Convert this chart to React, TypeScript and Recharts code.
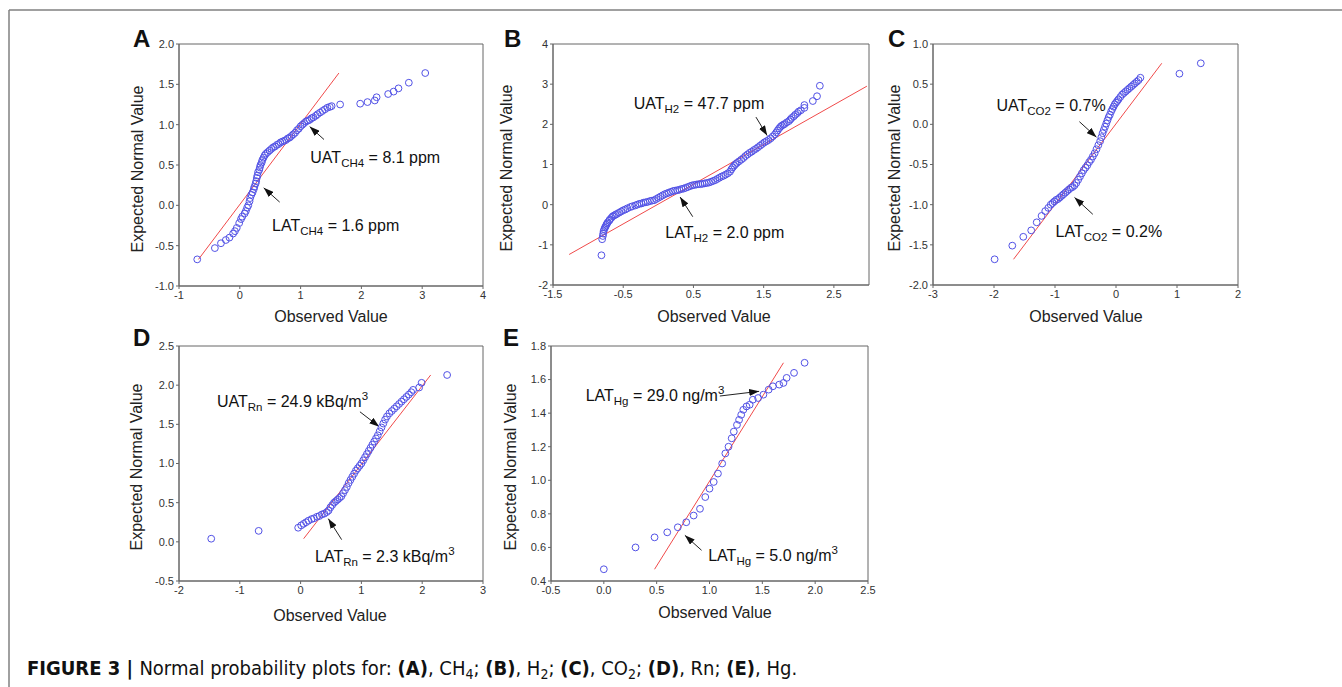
import React from 'react';
import { ScatterChart, Scatter, XAxis, YAxis, ReferenceLine, ReferenceArea } from 'recharts';

type Pt = [number, number];

// ---------- data ----------
const xTicksA = [-1, 0, 1, 2, 3, 4];
const yTicksA = [-1, -0.5, 0, 0.5, 1, 1.5, 2];
const pointsA: Pt[] = [
  [-0.70, -0.67], [-0.41, -0.53], [-0.31, -0.47], [-0.23, -0.43], [-0.17, -0.40], [-0.11, -0.35], [-0.08, -0.32],
  [-0.05, -0.28], [-0.01, -0.22], [0.02, -0.17], [0.04, -0.14], [0.08, -0.10], [0.10, -0.07], [0.12, -0.03],
  [0.14, 0.00], [0.16, 0.05], [0.17, 0.09], [0.19, 0.13], [0.21, 0.16], [0.23, 0.20], [0.24, 0.23], [0.26, 0.27],
  [0.27, 0.30], [0.28, 0.34], [0.29, 0.37], [0.30, 0.41], [0.32, 0.44], [0.33, 0.47], [0.34, 0.50], [0.36, 0.53],
  [0.37, 0.56], [0.39, 0.59], [0.41, 0.62], [0.43, 0.64], [0.46, 0.66], [0.49, 0.68], [0.52, 0.70], [0.55, 0.72],
  [0.58, 0.73], [0.61, 0.75], [0.64, 0.76], [0.67, 0.78], [0.70, 0.79], [0.73, 0.80], [0.76, 0.81], [0.79, 0.83],
  [0.82, 0.84], [0.85, 0.86], [0.88, 0.88], [0.91, 0.90], [0.94, 0.93], [0.97, 0.95], [1.00, 0.98], [1.03, 1.00],
  [1.06, 1.02], [1.09, 1.04], [1.12, 1.05], [1.15, 1.06], [1.18, 1.08], [1.21, 1.09], [1.25, 1.11], [1.28, 1.13],
  [1.32, 1.15], [1.36, 1.17], [1.40, 1.19], [1.44, 1.21], [1.48, 1.22], [1.51, 1.23], [1.65, 1.25], [1.98, 1.26],
  [2.10, 1.28], [2.22, 1.30], [2.25, 1.34], [2.44, 1.38], [2.53, 1.41], [2.61, 1.45], [2.78, 1.52], [3.05, 1.64],
];
const fitA: Pt[] = [[-0.68, -0.67], [1.63, 1.64]];

const xTicksB = [-1.5, -0.5, 0.5, 1.5, 2.5];
const yTicksB = [-2, -1, 0, 1, 2, 3, 4];
const pointsB: Pt[] = [
  [-0.81, -1.26], [-0.80, -0.86], [-0.79, -0.78], [-0.785, -0.72], [-0.78, -0.66], [-0.77, -0.61], [-0.76, -0.57],
  [-0.75, -0.54], [-0.74, -0.50], [-0.73, -0.47], [-0.72, -0.44], [-0.70, -0.40], [-0.69, -0.37], [-0.67, -0.33],
  [-0.65, -0.29], [-0.63, -0.27], [-0.61, -0.25], [-0.59, -0.23], [-0.56, -0.20], [-0.53, -0.17], [-0.50, -0.14],
  [-0.47, -0.12], [-0.44, -0.09], [-0.40, -0.06], [-0.37, -0.04], [-0.33, -0.02], [-0.30, 0.00], [-0.27, 0.02],
  [-0.24, 0.03], [-0.21, 0.05], [-0.18, 0.06], [-0.15, 0.07], [-0.12, 0.09], [-0.09, 0.10], [-0.06, 0.11],
  [-0.03, 0.14], [0.00, 0.17], [0.03, 0.20], [0.06, 0.23], [0.09, 0.26], [0.12, 0.28], [0.15, 0.30], [0.18, 0.32],
  [0.21, 0.34], [0.24, 0.35], [0.27, 0.36], [0.30, 0.37], [0.33, 0.39], [0.36, 0.40], [0.39, 0.42], [0.42, 0.44],
  [0.45, 0.46], [0.48, 0.48], [0.51, 0.49], [0.54, 0.50], [0.57, 0.51], [0.60, 0.51], [0.63, 0.52], [0.66, 0.53],
  [0.69, 0.54], [0.72, 0.55], [0.75, 0.57], [0.78, 0.59], [0.81, 0.61], [0.84, 0.64], [0.87, 0.67], [0.90, 0.70],
  [0.93, 0.72], [0.96, 0.75], [0.99, 0.78], [1.02, 0.82], [1.04, 0.88], [1.06, 0.93], [1.08, 0.97], [1.10, 1.01],
  [1.12, 1.04], [1.15, 1.08], [1.18, 1.12], [1.21, 1.16], [1.24, 1.21], [1.27, 1.25], [1.30, 1.29], [1.33, 1.32],
  [1.36, 1.36], [1.39, 1.39], [1.42, 1.43], [1.45, 1.47], [1.48, 1.51], [1.51, 1.55], [1.54, 1.58], [1.57, 1.61],
  [1.60, 1.65], [1.63, 1.70], [1.66, 1.75], [1.68, 1.80], [1.70, 1.85], [1.72, 1.90], [1.74, 1.94], [1.76, 1.97],
  [1.78, 1.99], [1.80, 2.01], [1.83, 2.05], [1.86, 2.08], [1.88, 2.12], [1.90, 2.16], [1.93, 2.20], [1.95, 2.24],
  [1.98, 2.28], [2.00, 2.32], [2.03, 2.35], [2.08, 2.41], [2.08, 2.48], [2.20, 2.58], [2.26, 2.70], [2.30, 2.96],
];
const fitB: Pt[] = [[-1.27, -1.24], [2.97, 2.95]];

const xTicksC = [-3, -2, -1, 0, 1, 2];
const yTicksC = [-2, -1.5, -1, -0.5, 0, 0.5, 1];
const pointsC: Pt[] = [
  [-1.99, -1.68], [-1.70, -1.51], [-1.52, -1.40], [-1.39, -1.32], [-1.30, -1.22], [-1.22, -1.14], [-1.16, -1.08],
  [-1.11, -1.04], [-1.07, -1.00], [-1.04, -0.98], [-1.01, -0.96], [-0.98, -0.94], [-0.95, -0.93], [-0.92, -0.91],
  [-0.89, -0.89], [-0.86, -0.87], [-0.83, -0.85], [-0.80, -0.83], [-0.77, -0.81], [-0.74, -0.79], [-0.71, -0.78],
  [-0.68, -0.76], [-0.65, -0.73], [-0.62, -0.69], [-0.59, -0.65], [-0.56, -0.61], [-0.53, -0.57], [-0.50, -0.54],
  [-0.47, -0.51], [-0.44, -0.47], [-0.41, -0.44], [-0.38, -0.40], [-0.35, -0.36], [-0.32, -0.31], [-0.29, -0.26],
  [-0.26, -0.21], [-0.24, -0.16], [-0.22, -0.11], [-0.20, -0.07], [-0.18, -0.03], [-0.16, 0.01], [-0.14, 0.05],
  [-0.12, 0.09], [-0.10, 0.12], [-0.08, 0.16], [-0.06, 0.19], [-0.04, 0.22], [-0.02, 0.25], [0.00, 0.27],
  [0.02, 0.29], [0.04, 0.31], [0.07, 0.34], [0.10, 0.37], [0.13, 0.39], [0.16, 0.41], [0.19, 0.43], [0.22, 0.45],
  [0.25, 0.47], [0.28, 0.49], [0.31, 0.51], [0.34, 0.53], [0.37, 0.55], [0.40, 0.58], [1.04, 0.63], [1.39, 0.76],
];
const fitC: Pt[] = [[-1.68, -1.68], [0.75, 0.76]];

const xTicksD = [-2, -1, 0, 1, 2, 3];
const yTicksD = [-0.5, 0, 0.5, 1, 1.5, 2, 2.5];
const pointsD: Pt[] = [
  [-1.47, 0.04], [-0.69, 0.14], [-0.04, 0.18], [0.01, 0.21], [0.05, 0.23], [0.09, 0.25], [0.13, 0.27], [0.18, 0.29],
  [0.22, 0.30], [0.27, 0.32], [0.31, 0.33], [0.35, 0.35], [0.39, 0.36], [0.43, 0.38], [0.46, 0.40], [0.49, 0.44],
  [0.52, 0.47], [0.55, 0.50], [0.58, 0.52], [0.61, 0.54], [0.64, 0.56], [0.67, 0.58], [0.70, 0.62], [0.73, 0.66],
  [0.76, 0.70], [0.79, 0.75], [0.82, 0.79], [0.85, 0.83], [0.88, 0.87], [0.91, 0.91], [0.94, 0.94], [0.97, 0.97],
  [1.00, 1.00], [1.03, 1.04], [1.06, 1.08], [1.09, 1.12], [1.12, 1.16], [1.15, 1.20], [1.18, 1.24], [1.21, 1.28],
  [1.24, 1.32], [1.27, 1.36], [1.30, 1.41], [1.33, 1.46], [1.36, 1.51], [1.39, 1.56], [1.42, 1.60], [1.46, 1.64],
  [1.50, 1.67], [1.54, 1.70], [1.58, 1.73], [1.62, 1.76], [1.66, 1.79], [1.70, 1.82], [1.74, 1.85], [1.78, 1.88],
  [1.82, 1.91], [1.85, 1.94], [1.95, 1.97], [1.99, 2.03], [2.41, 2.13],
];
const fitD: Pt[] = [[0.05, 0.04], [2.14, 2.13]];

const xTicksE = [-0.5, 0, 0.5, 1, 1.5, 2, 2.5];
const yTicksE = [0.4, 0.6, 0.8, 1.0, 1.2, 1.4, 1.6, 1.8];
const pointsE: Pt[] = [
  [0.00, 0.47], [0.30, 0.60], [0.48, 0.66], [0.60, 0.69], [0.70, 0.72], [0.78, 0.75], [0.85, 0.79], [0.91, 0.83],
  [0.96, 0.90], [1.00, 0.95], [1.04, 0.99], [1.08, 1.04], [1.12, 1.10], [1.15, 1.16], [1.18, 1.20], [1.21, 1.25],
  [1.23, 1.29], [1.26, 1.33], [1.28, 1.36], [1.30, 1.39], [1.32, 1.42], [1.35, 1.44], [1.38, 1.45], [1.41, 1.48],
  [1.46, 1.49], [1.51, 1.51], [1.56, 1.54], [1.60, 1.56], [1.66, 1.57], [1.70, 1.58], [1.73, 1.61], [1.80, 1.64],
  [1.90, 1.70],
];
const fitE: Pt[] = [[0.48, 0.47], [1.70, 1.70]];

type Anno = { x: number; y: number; main: string; sub: string; rest: string; sup?: string };
type Arrow = [number, number, number, number];

const annosA: Anno[] = [
  { x: 1.16, y: 0.52, main: 'UAT', sub: 'CH4', rest: ' = 8.1 ppm' },
  { x: 0.53, y: -0.32, main: 'LAT', sub: 'CH4', rest: ' = 1.6 ppm' },
];
const arrowsA: Arrow[] = [[1.385, 0.816, 1.149, 0.976], [0.656, 0.04, 0.393, 0.217]];

const annosB: Anno[] = [
  { x: -0.35, y: 2.39, main: 'UAT', sub: 'H2', rest: ' = 47.7 ppm' },
  { x: 0.10, y: -0.84, main: 'LAT', sub: 'H2', rest: ' = 2.0 ppm' },
];
const arrowsB: Arrow[] = [[1.39, 2.18, 1.55, 1.72], [0.49, -0.30, 0.31, 0.19]];

const annosC: Anno[] = [
  { x: -1.96, y: 0.17, main: 'UAT', sub: 'CO2', rest: ' = 0.7%' },
  { x: -0.99, y: -1.40, main: 'LAT', sub: 'CO2', rest: ' = 0.2%' },
];
const arrowsC: Arrow[] = [[-0.60, 0.033, -0.32, -0.16], [-0.38, -1.12, -0.68, -0.91]];

const annosD: Anno[] = [
  { x: -1.376, y: 1.72, main: 'UAT', sub: 'Rn', rest: ' = 24.9 kBq/m', sup: '3' },
  { x: 0.237, y: -0.257, main: 'LAT', sub: 'Rn', rest: ' = 2.3 kBq/m', sup: '3' },
];
const arrowsD: Arrow[] = [[0.976, 1.66, 1.293, 1.47], [0.675, 0.028, 0.456, 0.296]];

const annosE: Anno[] = [
  { x: -0.172, y: 1.472, main: 'LAT', sub: 'Hg', rest: ' = 29.0 ng/m', sup: '3' },
  { x: 0.988, y: 0.517, main: 'LAT', sub: 'Hg', rest: ' = 5.0 ng/m', sup: '3' },
];
const arrowsE: Arrow[] = [[1.098, 1.502, 1.47, 1.53], [0.925, 0.583, 0.767, 0.672]];

// ---------- styles ----------
const FONT = "'Liberation Sans', Arial, Helvetica, sans-serif";
const CAPTION_FONT = "'DejaVu Sans Condensed', 'Liberation Sans Narrow', Arial, sans-serif";
const AXIS = '#666';
const BLUE = '#5252e6';
const RED = '#f04a4a';

const fmtInt = (v: number) => String(v);
const fmt1 = (v: number) => v.toFixed(1);

const circle = (p: any) => (
  <circle cx={p.cx} cy={p.cy} r={3.4} fill="none" stroke={BLUE} strokeWidth={1} />
);

const annoShape = (p: any) => {
  const a: Anno = p.payload;
  return (
    <text x={p.cx} y={p.cy} fontSize={16} fontFamily={FONT} fill="#111">
      {a.main}
      <tspan fontSize={11.5} dy={4}>{a.sub}</tspan>
      <tspan dy={-4}>{a.rest}</tspan>
      {a.sup ? <tspan fontSize={11.5} dy={-7}>{a.sup}</tspan> : null}
    </text>
  );
};

type PanelProps = {
  box: [number, number, number, number];
  xDomain: [number, number];
  yDomain: [number, number];
  xTicks: number[];
  yTicks: number[];
  xFmt: (v: number) => string;
  yFmt: (v: number) => string;
  points: Pt[];
  fit: Pt[];
  annos: Anno[];
  arrows: Arrow[];
};

function Panel({ box, xDomain, yDomain, xTicks, yTicks, xFmt, yFmt, points, fit, annos, arrows }: PanelProps) {
  const [L, T, W, H] = box;
  const ml = 45, mt = 8, mr = 10, xb = 30;
  const data = points.map(([x, y]) => ({ x, y }));
  const tick = { fontSize: 11, fill: '#333', fontFamily: FONT };
  return (
    <div style={{ position: 'absolute', left: L - ml, top: T - mt }}>
      <ScatterChart width={W + ml + mr} height={H + mt + xb} margin={{ top: mt, right: mr, bottom: 0, left: 5 }}>
        <XAxis type="number" dataKey="x" domain={xDomain} ticks={xTicks} tickFormatter={xFmt} allowDataOverflow
          interval={0} height={xb} tickSize={3} stroke={AXIS} tick={tick} />
        <YAxis type="number" dataKey="y" domain={yDomain} ticks={yTicks} tickFormatter={yFmt} allowDataOverflow
          interval={0} width={40} tickSize={3} stroke={AXIS} tick={tick} />
        <ReferenceArea x1={xDomain[0]} x2={xDomain[1]} y1={yDomain[0]} y2={yDomain[1]} fill="none" stroke={AXIS} strokeWidth={1} />
        <Scatter data={data} isAnimationActive={false} shape={circle} />
        <ReferenceLine segment={[{ x: fit[0][0], y: fit[0][1] }, { x: fit[1][0], y: fit[1][1] }]} stroke={RED} strokeWidth={1} />
        {arrows.map((a, i) => (
          <ReferenceLine key={i} segment={[{ x: a[0], y: a[1] }, { x: a[2], y: a[3] }]} stroke="#222" strokeWidth={1}
            markerEnd="url(#arrowHead)" />
        ))}
        <Scatter data={annos} isAnimationActive={false} shape={annoShape} />
      </ScatterChart>
    </div>
  );
}

const letters = [
  { t: 'A', x: 133, y: 46.5 }, { t: 'B', x: 504, y: 46.5 }, { t: 'C', x: 888, y: 47 },
  { t: 'D', x: 133, y: 345.5 }, { t: 'E', x: 503, y: 345.5 },
];
const xLabels = [
  { x: 331, y: 322 }, { x: 714, y: 322 }, { x: 1086, y: 322 }, { x: 330, y: 621 }, { x: 715, y: 618 },
];
const yLabels = [
  { x: 143, y: 169 }, { x: 512, y: 168 }, { x: 900, y: 168 }, { x: 142, y: 467 }, { x: 516, y: 467 },
];

export default function App() {
  return (
    <div style={{ position: 'relative', width: 1342, height: 687, background: '#fff', overflow: 'hidden' }}>
      <style>{'body{margin:0;background:#fff}'}</style>
      <svg width={1342} height={687} style={{ position: 'absolute', left: 0, top: 0 }}>
        <defs>
          <marker id="arrowHead" viewBox="0 0 10 7" refX={10} refY={3.5} markerWidth={10} markerHeight={7}
            markerUnits="userSpaceOnUse" orient="auto">
            <path d="M0,0 L10,3.5 L0,7 z" fill="#111" />
          </marker>
        </defs>
        <line x1={9} y1={10} x2={1342} y2={10} stroke="#808080" strokeWidth={1.5} />
        <line x1={9} y1={10} x2={9} y2={687} stroke="#808080" strokeWidth={1.5} />
        {letters.map((l) => (
          <text key={l.t} x={l.x} y={l.y} fontSize={24} fontWeight="bold" fontFamily={FONT} fill="#111">{l.t}</text>
        ))}
        {xLabels.map((l, i) => (
          <text key={i} x={l.x} y={l.y} fontSize={16} fontFamily={FONT} fill="#222" textAnchor="middle">Observed Value</text>
        ))}
        {yLabels.map((l, i) => (
          <text key={i} x={0} y={0} transform={`translate(${l.x},${l.y}) rotate(-90)`} fontSize={16} fontFamily={FONT}
            fill="#222" textAnchor="middle">Expected Normal Value</text>
        ))}
        <text x={27} y={675} fontSize={20} fontFamily={CAPTION_FONT} fill="#111">
          <tspan fontWeight="bold">FIGURE 3 | </tspan>
          <tspan>Normal probability plots for: </tspan>
          <tspan fontWeight="bold">(A)</tspan><tspan>, CH</tspan><tspan fontSize={14} dy={4}>4</tspan>
          <tspan dy={-4}>; </tspan><tspan fontWeight="bold">(B)</tspan><tspan>, H</tspan><tspan fontSize={14} dy={4}>2</tspan>
          <tspan dy={-4}>; </tspan><tspan fontWeight="bold">(C)</tspan><tspan>, CO</tspan><tspan fontSize={14} dy={4}>2</tspan>
          <tspan dy={-4}>; </tspan><tspan fontWeight="bold">(D)</tspan><tspan>, Rn; </tspan>
          <tspan fontWeight="bold">(E)</tspan><tspan>, Hg.</tspan>
        </text>
      </svg>
      <Panel box={[179, 44, 304, 242]} xDomain={[-1, 4]} yDomain={[-1, 2]} xTicks={xTicksA} yTicks={yTicksA}
        xFmt={fmtInt} yFmt={fmt1} points={pointsA} fit={fitA} annos={annosA} arrows={arrowsA} />
      <Panel box={[553, 44, 316, 241]} xDomain={[-1.5, 3]} yDomain={[-2, 4]} xTicks={xTicksB} yTicks={yTicksB}
        xFmt={fmt1} yFmt={fmtInt} points={pointsB} fit={fitB} annos={annosB} arrows={arrowsB} />
      <Panel box={[933, 44, 305, 241]} xDomain={[-3, 2]} yDomain={[-2, 1]} xTicks={xTicksC} yTicks={yTicksC}
        xFmt={fmtInt} yFmt={fmt1} points={pointsC} fit={fitC} annos={annosC} arrows={arrowsC} />
      <Panel box={[179, 346, 304, 235]} xDomain={[-2, 3]} yDomain={[-0.5, 2.5]} xTicks={xTicksD} yTicks={yTicksD}
        xFmt={fmtInt} yFmt={fmt1} points={pointsD} fit={fitD} annos={annosD} arrows={arrowsD} />
      <Panel box={[551, 346, 317, 235]} xDomain={[-0.5, 2.5]} yDomain={[0.4, 1.8]} xTicks={xTicksE} yTicks={yTicksE}
        xFmt={fmt1} yFmt={fmt1} points={pointsE} fit={fitE} annos={annosE} arrows={arrowsE} />
    </div>
  );
}
